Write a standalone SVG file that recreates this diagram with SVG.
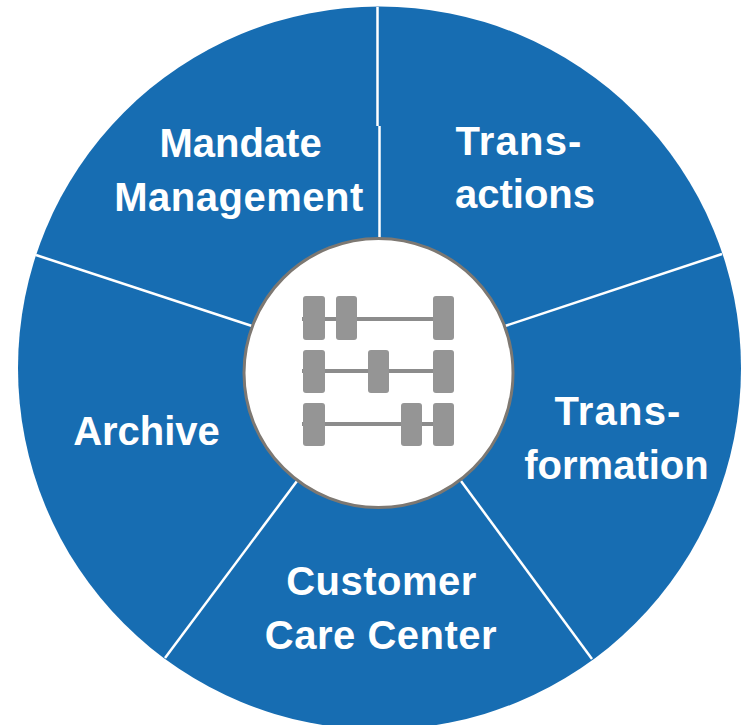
<svg xmlns="http://www.w3.org/2000/svg" width="746" height="725" viewBox="0 0 746 725">
<defs><style>
.t{font-family:"Liberation Sans",Arial,sans-serif;font-weight:700;font-size:40px;fill:#fff;text-anchor:middle}
.s{letter-spacing:.5px}
.h{letter-spacing:1.2px}
.d{stroke:#fff;stroke-width:2.5;fill:none}
.w{fill:#959595}
.b{stroke:#8c8c8c;stroke-width:4;fill:none}
</style></defs>
<rect width="746" height="725" fill="#fff"/>
<g id="disc"><circle cx="379.500" cy="368" r="361.500" fill="#176db2"/></g>
<g id="connectors">
<path class="d" d="M377.500 7V126"/>
<path class="d" d="M379.500 126V240"/>
<path class="d" d="M722 254L505 326"/>
<path class="d" d="M592 659L461 481"/>
<path class="d" d="M165 658L297 481"/>
<path class="d" d="M36 255L252 326"/>
</g>
<g id="hub"><circle cx="378.500" cy="373" r="134.500" fill="#fff" stroke="#7d7872" stroke-width="3"/>
<path class="b" d="M302 319H454M302 371H454M302 424H454"/>
<rect class="w" x="303" y="296" width="22" height="44" rx="3"/><rect class="w" x="336" y="296" width="21" height="44" rx="3"/><rect class="w" x="433" y="296" width="21" height="44" rx="3"/>
<rect class="w" x="303" y="350" width="22" height="43" rx="3"/><rect class="w" x="368" y="350" width="21" height="43" rx="3"/><rect class="w" x="433" y="350" width="21" height="43" rx="3"/>
<rect class="w" x="303" y="403" width="22" height="43" rx="3"/><rect class="w" x="401" y="403" width="21" height="43" rx="3"/><rect class="w" x="433" y="403" width="21" height="43" rx="3"/>
</g>
<g id="mandate"><text class="t" x="240.500" y="157">Mandate</text><text class="t s" x="239" y="211">Management</text></g>
<g id="transactions"><text class="t h" x="519" y="155">Trans-</text><text class="t" x="525" y="208">actions</text></g>
<g id="transformation"><text class="t h" x="618" y="425">Trans-</text><text class="t" x="616.500" y="479">formation</text></g>
<g id="customer"><text class="t s" x="381.500" y="595">Customer</text><text class="t s" x="381" y="649">Care Center</text></g>
<g id="archive"><text class="t" x="146.500" y="445">Archive</text></g>
</svg>
